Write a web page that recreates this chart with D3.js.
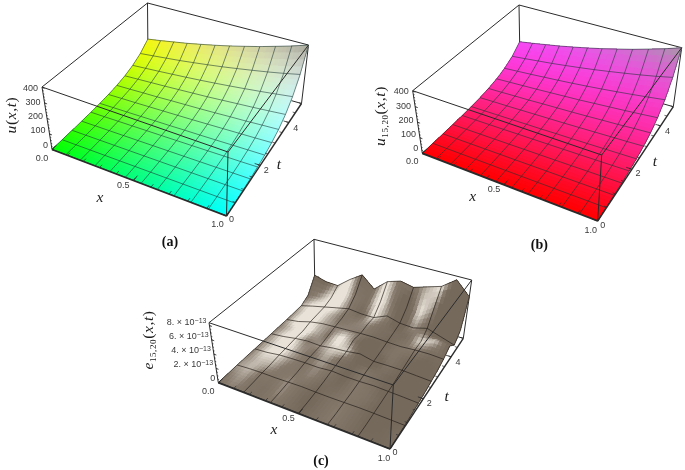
<!DOCTYPE html>
<html>
<head>
<meta charset="utf-8">
<script src="https://cdn.jsdelivr.net/npm/d3@7"></script>
<style>
  body { margin: 0; background: #fff; }
  svg { display: block; filter: blur(0.3px); }
  .tick { font: 9px "Liberation Sans", sans-serif; fill: #3a3a3a; }
  .axis { font: italic 15.5px "Liberation Serif", serif; fill: #1c1c1c; }
  .panel { font: bold 14px "Liberation Serif", serif; fill: #111; }
  .cell { shape-rendering: crispEdges; }
</style>
</head>
<body>
<script>
'use strict';

// heights, one row per mesh line of t (front row first)
let uValues = [
    [1.0, 1.1, 1.2, 1.3, 1.4, 1.6, 1.7, 1.9, 2.1, 2.3, 2.5, 2.7],
    [1.6, 1.7, 1.9, 2.1, 2.3, 2.5, 2.7, 3.0, 3.3, 3.6, 3.9, 4.3],
    [2.5, 2.7, 3.0, 3.3, 3.6, 3.9, 4.3, 4.7, 5.1, 5.6, 6.2, 6.8],
    [3.9, 4.3, 4.7, 5.1, 5.6, 6.1, 6.7, 7.4, 8.1, 8.9, 9.7, 10.6],
    [6.2, 6.7, 7.4, 8.1, 8.9, 9.7, 10.6, 11.6, 12.7, 14, 15, 17],
    [9.7, 10.6, 11.6, 12.7, 14, 15, 17, 18, 20, 22, 24, 26],
    [15, 17, 18, 20, 22, 24, 26, 29, 32, 35, 38, 42],
    [24, 26, 29, 31, 35, 38, 41, 45, 50, 54, 60, 65],
    [38, 42, 46, 50, 55, 60, 65, 72, 79, 86, 94, 103],
    [60, 66, 72, 79, 86, 94, 103, 113, 124, 136, 149, 163],
    [94, 103, 113, 123, 135, 148, 162, 178, 195, 213, 233, 256],
    [148, 162, 178, 194, 213, 233, 255, 280, 306, 336, 367, 403]
];

// panel (b) cannot be told apart from panel (a) by eye
let u1520Values = uValues;

// error surface in units of 1e-13
let e1520Values = [
    [0.02, 0.05, 0.08, 0.06, 0.08, 0.1, 0.08, 0.06, 0.08, 0.1, 0.08, 0.06, 0.04],
    [0.05, 0.1, 0.15, 0.12, 0.15, 0.2, 0.15, 0.12, 0.15, 0.18, 0.15, 0.12, 0.1],
    [0.08, 0.2, 0.26, 0.25, 0.3, 0.35, 0.3, 0.28, 0.3, 0.33, 0.3, 0.25, 0.2],
    [0.1, 0.2, 0.32, 0.4, 0.38, 0.45, 0.48, 0.42, 0.42, 0.48, 0.45, 0.4, 0.3],
    [0.1, 0.2, 0.45, 0.55, 0.6, 0.58, 0.75, 0.62, 0.62, 0.7, 0.62, 0.55, 0.45],
    [0.12, 0.25, 0.5, 0.75, 0.7, 0.8, 0.95, 0.8, 0.85, 0.85, 0.8, 0.7, 0.6],
    [0.12, 0.3, 0.6, 0.8, 0.72, 1.0, 1.15, 1.42, 1.0, 1.05, 1.05, 0.95, 0.85],
    [0.15, 0.3, 0.6, 1.1, 1.0, 1.2, 1.7, 1.35, 1.2, 1.3, 1.3, 1.2, 1.1],
    [0.15, 0.4, 0.9, 1.2, 1.3, 1.4, 1.5, 1.55, 1.45, 1.4, 1.55, 1.6, 1.5],
    [0.2, 0.5, 1.0, 1.4, 1.5, 1.5, 1.7, 1.8, 1.7, 1.7, 1.6, 2.4, 2.2],
    [0.25, 0.7, 1.1, 1.5, 1.9, 1.7, 1.7, 2.5, 2.0, 1.9, 2.4, 1.8, 1.2],
    [0.9, 1.0, 1.5, 2.2, 3.0, 2.4, 3.0, 4.0, 3.2, 3.0, 4.4, 3.6, 2.2],
    [3.0, 2.5, 2.4, 3.8, 5.0, 3.4, 5.0, 5.6, 5.2, 5.8, 6.4, 7.9, 6.0]
];

let xTicks = [0, 0.5, 1];
let xTickLabels = ['0.0', '0.5', '1.0'];
let xMinorTicks = [0, 0.1, 0.2, 0.3, 0.4, 0.5, 0.6, 0.7, 0.8, 0.9, 1];
let tTicks = [0, 2, 4];
let tMinorTicks = [0, 0.5, 1, 1.5, 2, 2.5, 3, 3.5, 4, 4.5, 5];
let uTicks = [0, 100, 200, 300, 400];
let uMinorTicks = [0, 20, 40, 60, 80, 100, 120, 140, 160, 180, 200, 220, 240, 260, 280, 300, 320, 340, 360, 380, 400];
let eTicks = [0, 2, 4, 6, 8];
let eMinorTicks = [0, 0.5, 1, 1.5, 2, 2.5, 3, 3.5, 4, 4.5, 5, 5.5, 6, 6.5, 7, 7.5, 8];

let width = 685;
let height = 470;
let subdivide = 4;

let svg = d3.select('body')
    .append('svg')
    .attr('width', width)
    .attr('height', height);

// gradients of the two smooth surfaces
let fadeToGray = d3.scalePow().exponent(2.2).domain([0, 403]).range([0, 1]);
let tRamp = d3.scaleLinear().domain([0, 5]).range([0, 255]);
let xRamp = d3.scaleLinear().domain([0, 1]).range([0, 255]);
let shadeRamp = d3.scaleLinear()
    .domain([-0.1, 0.1, 0.38, 1])
    .range(['#75695c', '#85796c', '#e8e2d8', '#ebe5db'])
    .clamp(true);

function colorA(x, t, z) {
    let base = d3.rgb(tRamp(t), 255, xRamp(x));
    return d3.interpolateRgb(base, '#a5a596')(fadeToGray(z));
}

function colorB(x, t, z) {
    let base = d3.rgb(255, tRamp(t) * 0.25, tRamp(t));
    return d3.interpolateRgb(base, '#a59aa5')(fadeToGray(z));
}

let panels = [
    {
        values: uValues, zDomain: [0, 403], zTicks: uTicks, zMinor: uMinorTicks,
        meshStep: 1, color: colorA, zLabel: (v) => [String(v)],
        bottom: [[52, 149.5], [226.5, 216], [301.5, 103.5], [148, 60]],
        top: [[42, 87], [228, 152], [308.5, 45], [147.5, 3]],
        zOffset: [-4, -5, 0], xOffset: [[-10, 8], [-10, 4], [-9, 8]], tOffset: [[5, 3], [6, 4], [7, 5]],
        name: ['u'], nameAt: [16, 115], xAt: [100, 202], tAt: [279, 169], title: '(a)', titleAt: [170, 246]
    },
    {
        values: u1520Values, zDomain: [0, 403], zTicks: uTicks, zMinor: uMinorTicks,
        meshStep: 1, color: colorB, zLabel: (v) => [String(v)],
        bottom: [[422.3, 153.3], [597.7, 221], [673.3, 106.7], [520, 63]],
        top: [[412.7, 90.7], [601.7, 155], [681.7, 47.7], [519, 5]],
        zOffset: [-4, -5, 0], xOffset: [[-10, 8], [-10, 4], [-7, 9]], tOffset: [[5, 4], [6, 4], [7, 5]],
        name: ['u', '15,20'], nameAt: [385, 116], xAt: [472.7, 201], tAt: [655, 166], title: '(b)', titleAt: [539.3, 249]
    },
    {
        values: e1520Values, zDomain: [0, 8.4], zTicks: eTicks, zMinor: eMinorTicks,
        meshStep: 2, color: null, zLabel: (v) => v === 0 ? ['0'] : [v + '. × 10', '−13'],
        bottom: [[218.3, 382.7], [390, 449], [463.3, 338.3], [315, 295]],
        top: [[209, 322.7], [393.3, 385], [471.7, 280], [314, 239.3]],
        zOffset: [-3, -5, -4], xOffset: [[-10, 8], [-10, 4], [-6, 9]], tOffset: [[5, 3], [6, 4], [7, 5]],
        name: ['e', '15,20'], nameAt: [153, 340], xAt: [274, 434], tAt: [446.7, 401], title: '(c)', titleAt: [321, 465]
    }
];

panels.forEach(drawPanel);

// maps the unit square onto a quadrilateral, so mesh lines bunch up with distance
function makeHomography(q) {
    let dx1 = q[1][0] - q[2][0], dx2 = q[3][0] - q[2][0], sx = q[0][0] - q[1][0] + q[2][0] - q[3][0];
    let dy1 = q[1][1] - q[2][1], dy2 = q[3][1] - q[2][1], sy = q[0][1] - q[1][1] + q[2][1] - q[3][1];
    let det = dx1 * dy2 - dx2 * dy1;
    let g = (sx * dy2 - dx2 * sy) / det;
    let h = (dx1 * sy - sx * dy1) / det;
    let a = q[1][0] - q[0][0] + g * q[1][0], b = q[3][0] - q[0][0] + h * q[3][0];
    let d = q[1][1] - q[0][1] + g * q[1][1], e = q[3][1] - q[0][1] + h * q[3][1];
    return function(u, v) {
        let w = g * u + h * v + 1;
        return [(a * u + b * v + q[0][0]) / w, (d * u + e * v + q[0][1]) / w];
    };
}

function drawPanel(panel) {
    let g = svg.append('g');
    let values = panel.values;
    let nT = values.length;
    let nX = values[0].length;

    let xScale = d3.scaleLinear().domain([0, 1]).range([0, 1]);
    let tScale = d3.scaleLinear().domain([0, 5]).range([0, 1]);
    let zScale = d3.scaleLinear().domain(panel.zDomain).range([0, 1]);
    let xIndex = d3.scaleLinear().domain([0, nX - 1]).range([0, 1]);
    let tIndex = d3.scaleLinear().domain([0, nT - 1]).range([0, 5]);

    let low = makeHomography(panel.bottom);
    let high = makeHomography(panel.top);

    function project(x, t, z) {
        let a = low(xScale(x), tScale(t));
        let b = high(xScale(x), tScale(t));
        let k = zScale(z);
        return [a[0] + (b[0] - a[0]) * k, a[1] + (b[1] - a[1]) * k];
    }

    let line = d3.line();

    function edge(p, q, w) {
        g.append('path')
            .attr('d', line([project(p[0], p[1], p[2]), project(q[0], q[1], q[2])]))
            .attr('fill', 'none')
            .attr('stroke', '#2b2b2b')
            .attr('stroke-width', w);
    }

    let zMax = panel.zDomain[1];

    // back of the box goes under the surface
    edge([0, 0, zMax], [0, 5, zMax], 1);
    edge([0, 5, zMax], [1, 5, zMax], 1);
    edge([0, 5, 0], [0, 5, zMax], 1);
    edge([1, 5, 0], [1, 5, zMax], 1);
    edge([0, 5, 0], [1, 5, 0], 1);
    edge([0, 0, 0], [0, 5, 0], 1);

    function heightAt(i, j) {
        return values[j][i];
    }

    // slope along x against the height of the row, it decides where panel (c) catches the light
    function slope(i, j) {
        let left = heightAt(Math.max(i - 1, 0), j);
        let right = heightAt(Math.min(i + 1, nX - 1), j);
        return (right - left) / (0.4 + d3.mean(values[j]));
    }

    let cells = g.append('g');
    for (let j = nT - 2; j >= 0; j--) {
        for (let i = 0; i < nX - 1; i++) {
            let z00 = heightAt(i, j), z10 = heightAt(i + 1, j), z01 = heightAt(i, j + 1), z11 = heightAt(i + 1, j + 1);
            let s00 = slope(i, j), s10 = slope(i + 1, j), s01 = slope(i, j + 1), s11 = slope(i + 1, j + 1);
            let mix = (a, b, c, d, u, v) => a * (1 - u) * (1 - v) + b * u * (1 - v) + c * (1 - u) * v + d * u * v;
            for (let r = subdivide - 1; r >= 0; r--) {
                for (let s = 0; s < subdivide; s++) {
                    let corners = [[s, r], [s + 1, r], [s + 1, r + 1], [s, r + 1]].map((c) => {
                        let u = c[0] / subdivide, v = c[1] / subdivide;
                        return project(xIndex(i + u), tIndex(j + v), mix(z00, z10, z01, z11, u, v));
                    });
                    let u = (s + 0.5) / subdivide, v = (r + 0.5) / subdivide;
                    let fill;
                    if (panel.color) {
                        fill = panel.color(xIndex(i + u), tIndex(j + v), mix(z00, z10, z01, z11, u, v));
                    } else {
                        fill = shadeRamp(mix(s00, s10, s01, s11, u, v));
                    }
                    cells.append('polygon')
                        .attr('class', 'cell')
                        .attr('points', corners.join(' '))
                        .attr('fill', fill)
                        .attr('stroke', fill)
                        .attr('stroke-width', 0.6);
                }
            }
        }
    }

    // mesh lines
    let meshColor = panel.color ? 'rgba(25,50,50,0.8)' : 'rgba(35,28,22,0.95)';
    for (let j = 0; j < nT; j += panel.meshStep) {
        let pts = values[j].map((z, i) => project(xIndex(i), tIndex(j), z));
        g.append('path').attr('d', line(pts)).attr('fill', 'none').attr('stroke', meshColor).attr('stroke-width', 0.7);
    }
    for (let i = 0; i < nX; i += panel.meshStep) {
        let pts = values.map((row, j) => project(xIndex(i), tIndex(j), row[i]));
        g.append('path').attr('d', line(pts)).attr('fill', 'none').attr('stroke', meshColor).attr('stroke-width', 0.7);
    }

    // front of the box goes over it
    edge([0, 0, zMax], [1, 0, zMax], 1);
    edge([1, 0, zMax], [1, 5, zMax], 1);
    edge([0, 0, 0], [0, 0, zMax], 1);
    edge([1, 0, 0], [1, 0, zMax], 1);
    edge([0, 0, 0], [1, 0, 0], 1.8);
    edge([1, 0, 0], [1, 5, 0], 1.4);

    // ticks
    xMinorTicks.forEach((v) => edge([v, 0, 0], [v, 0.12, 0], 0.7));
    xTicks.forEach((v) => edge([v, 0, 0], [v, 0.2, 0], 0.8));
    tMinorTicks.forEach((v) => edge([1, v, 0], [0.985, v, 0], 0.7));
    tTicks.forEach((v) => edge([1, v, 0], [0.97, v, 0], 0.8));
    panel.zMinor.forEach((v) => edge([0, 0, v], [0.008, 0, v], 0.7));
    panel.zTicks.forEach((v) => edge([0, 0, v], [0.016, 0, v], 0.8));

    function tickText(x, y, anchor) {
        return g.append('text')
            .attr('class', 'tick')
            .attr('x', x)
            .attr('y', y)
            .attr('dy', '0.35em')
            .attr('text-anchor', anchor);
    }

    xTicks.forEach((v, i) => {
        let p = project(v, 0, 0);
        tickText(p[0] + panel.xOffset[i][0], p[1] + panel.xOffset[i][1], 'middle').text(xTickLabels[i]);
    });
    tTicks.forEach((v, i) => {
        let p = project(1, v, 0);
        tickText(p[0] + panel.tOffset[i][0], p[1] + panel.tOffset[i][1], 'middle').text(v);
    });
    panel.zTicks.forEach((v) => {
        let p = project(0, 0, v);
        let parts = panel.zLabel(v);
        let shift = panel.zOffset[1] + (panel.zOffset[2] - panel.zOffset[1]) * zScale(v);
        let label = tickText(p[0] + panel.zOffset[0], p[1] + shift, 'end');
        label.append('tspan').text(parts[0]);
        if (parts[1]) {
            label.append('tspan')
                .attr('dy', '-0.3em')
                .style('font-size', '7px')
                .text(parts[1]);
        }
    });

    // axis names
    let name = g.append('text')
        .attr('class', 'axis')
        .attr('text-anchor', 'middle')
        .attr('letter-spacing', '0.6')
        .attr('transform', 'translate(' + panel.nameAt[0] + ',' + panel.nameAt[1] + ') rotate(-90)');
    name.append('tspan').text(panel.name[0]);
    if (panel.name[1]) {
        name.append('tspan')
            .attr('dy', '3')
            .style('font-size', '9px')
            .style('font-style', 'normal')
            .text(panel.name[1]);
        name.append('tspan').attr('dy', '-3').style('font-style', 'normal').text('(');
    } else {
        name.append('tspan').style('font-style', 'normal').text('(');
    }
    name.append('tspan').text('x');
    name.append('tspan').style('font-style', 'normal').text(',');
    name.append('tspan').text('t');
    name.append('tspan').style('font-style', 'normal').text(')');

    g.append('text').attr('class', 'axis').attr('text-anchor', 'middle')
        .attr('x', panel.xAt[0]).attr('y', panel.xAt[1]).text('x');
    g.append('text').attr('class', 'axis').attr('text-anchor', 'middle')
        .attr('x', panel.tAt[0]).attr('y', panel.tAt[1]).text('t');
    g.append('text').attr('class', 'panel').attr('text-anchor', 'middle')
        .attr('x', panel.titleAt[0]).attr('y', panel.titleAt[1]).text(panel.title);
}
</script>
</body>
</html>
